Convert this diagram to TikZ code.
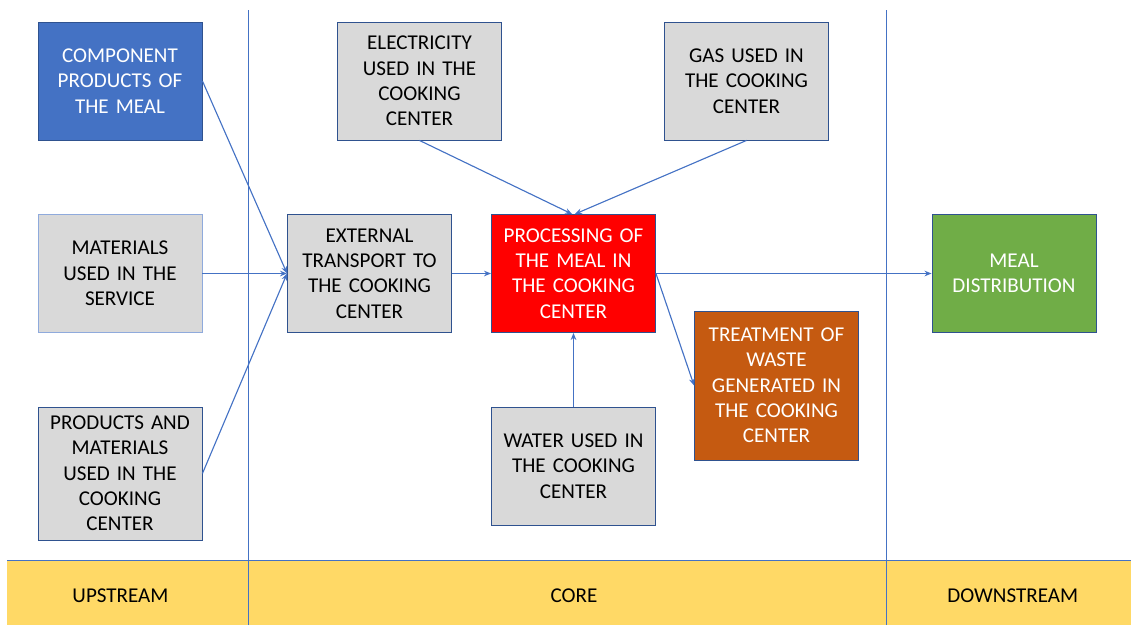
\documentclass[tikz,border=0pt]{standalone}
\usepackage{fontspec}
\setmainfont{Carlito}
\usepackage{tikz}
\usetikzlibrary{arrows.meta,positioning}
\definecolor{lineblue}{HTML}{4472C4}
\definecolor{edgeblue}{HTML}{2F528F}
\definecolor{lightedge}{HTML}{8FAADC}
\definecolor{boxgray}{HTML}{D9D9D9}
\definecolor{mealblue}{HTML}{4472C4}
\definecolor{waste}{HTML}{C55A11}
\definecolor{distgreen}{HTML}{70AD47}
\definecolor{band}{HTML}{FFD966}
% stage label, set a little below the middle of its band
\newcommand{\stagetext}[2][0pt]{\hspace*{#1}\smash{\raisebox{-7pt}{#2}}}

\begin{document}
\begin{tikzpicture}[x=0.025cm,y=-0.025cm,>={Stealth[length=5pt,width=4pt]},
  box/.style={draw=edgeblue,line width=0.6pt,fill=boxgray,minimum width=4.1cm,minimum height=2.95cm,
    text width=4cm,align=center,font=\fontsize{15}{18}\selectfont,inner sep=0pt},
  stage/.style={fill=band,minimum height=1.625cm,inner sep=0pt,font=\fontsize{15}{18}\selectfont},
  flow/.style={->,draw=lineblue,line width=0.8pt}]
\useasboundingbox (0,0) rectangle (1131,625);
% stages along the bottom
\node[stage,minimum width=6.025cm] (up) at (127.5,592.5) {\stagetext[-10pt]{UPSTREAM}};
\node[stage,minimum width=15.95cm] (core) at (567,592.5) {\stagetext[10pt]{CORE}};
\node[stage,minimum width=6.125cm] (down) at (1008.5,592.5) {\stagetext[6pt]{DOWNSTREAM}};
\draw[lineblue,line width=0.6pt] (7,560) -- (1131,560);
\draw[lineblue,line width=0.6pt] (248,10) -- (248,625);
\draw[lineblue,line width=0.6pt] (886,10) -- (886,625);
% upstream boxes
\node[box,fill=mealblue,text=white] (comp) at (120,81) {COMPONENT\\PRODUCTS OF\\THE MEAL};
\node[box,draw=lightedge] (serv) at (120,273.5) {MATERIALS\\USED IN THE\\SERVICE};
\node[box,minimum height=3.325cm] (prod) at (120,473.5) {PRODUCTS AND\\MATERIALS\\USED IN THE\\COOKING\\CENTER};
% core boxes
\node[box] (trans) at (369.5,273.5) {EXTERNAL\\TRANSPORT TO\\THE COOKING\\CENTER};
\node[box] (elec) at (419.5,81) {ELECTRICITY\\USED IN THE\\COOKING\\CENTER};
\node[box] (gas) at (746.5,81) {GAS USED IN\\THE COOKING\\CENTER};
\node[box,fill=red,text=white] (proc) at (573.5,273.5) {PROCESSING OF\\THE MEAL IN\\THE COOKING\\CENTER};
\node[box] (water) at (573.5,466) {WATER USED IN\\THE COOKING\\CENTER};
\node[box,fill=waste,text=white,minimum height=3.725cm] (treat) at (776.5,385.5) {TREATMENT OF\\WASTE\\GENERATED IN\\THE COOKING\\CENTER};
% downstream
\node[box,fill=distgreen,text=white] (dist) at (1014,273.5) {MEAL\\DISTRIBUTION};
% flows
\draw[flow] (comp.east) -- (trans.west);
\draw[flow] (serv.east) -- (trans.west);
\draw[flow] (prod.east) -- (trans.west);
\draw[flow] (trans.east) -- (proc.west);
\draw[flow] (elec.south) -- ([xshift=-1pt]proc.north);
\draw[flow] (gas.south) -- ([xshift=1pt]proc.north);
\draw[flow] (water.north) -- (proc.south);
\draw[flow] (proc.east) -- (dist.west);
\draw[flow] (proc.east) -- (treat.west);
\end{tikzpicture}
\end{document}
